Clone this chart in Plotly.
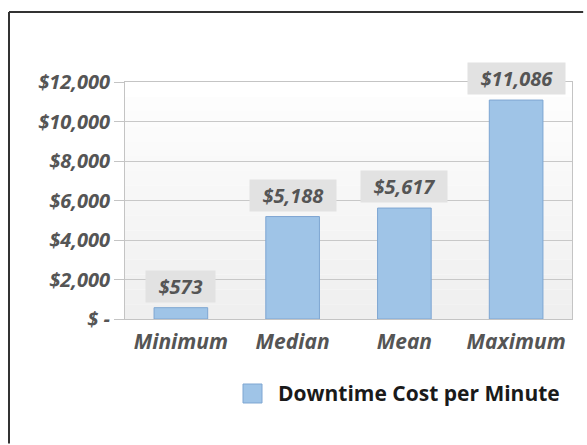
import plotly.graph_objects as go

# Downtime cost per minute summary statistics
categories = ["Minimum", "Median", "Mean", "Maximum"]
costs = [573, 5188, 5617, 11086]
tick_values = [0, 2000, 4000, 6000, 8000, 10000, 12000]
tick_labels = ["$ -", "$2,000", "$4,000", "$6,000", "$8,000", "$10,000", "$12,000"]
series_name = "Downtime Cost per Minute"

FONT = "Open Sans"
LABEL_GRAY = "#555555"
BAR_FILL = "#9fc4e7"
BAR_EDGE = "#7ea6d2"

fig = go.Figure()

fig.add_trace(go.Bar(
    x=categories,
    y=costs,
    name=series_name,
    width=0.48,
    marker=dict(color=BAR_FILL, line=dict(color=BAR_EDGE, width=1)),
    showlegend=False,
    hoverinfo="x+y",
))

# value labels on grey boxes above each bar
for cat, val in zip(categories, costs):
    fig.add_annotation(
        x=cat, y=val,
        text=f"<i><b>&nbsp;&nbsp;${val:,}&nbsp;&nbsp;</b></i>",
        showarrow=False,
        yanchor="bottom",
        yshift=5,
        bgcolor="#e2e2e2",
        borderpad=2,
        font=dict(family=FONT, size=20, color=LABEL_GRAY),
    )

# soft vertical shading of the plotting area
n_bands = 16
for i in range(n_bands):
    shade = int(255 - 16 * i / (n_bands - 1))
    fig.add_shape(
        type="rect", xref="paper", yref="paper",
        x0=0, x1=1,
        y0=1 - (i + 1) / n_bands, y1=1 - i / n_bands,
        fillcolor=f"rgb({shade},{shade},{shade})",
        line=dict(width=0), layer="below",
    )

# series key below the chart: swatch plus label
fig.add_shape(
    type="rect", xref="paper", yref="paper",
    x0=0.264, x1=0.3065, y0=-0.3544, y1=-0.2743,
    fillcolor=BAR_FILL, line=dict(color=BAR_EDGE, width=1),
)
fig.add_annotation(
    x=0.338, y=-0.314, xref="paper", yref="paper",
    xanchor="left", yanchor="middle",
    text=f"<b>{series_name}</b>",
    showarrow=False,
    font=dict(family=FONT, size=21, color="#1a1a1a"),
)

# outer frame: left and top edges of the chart border, kept inside the page
FRAME_LEFT, FRAME_TOP = -0.2595, 1.2954
FRAME_RIGHT, FRAME_BOTTOM = 1.025, -0.525
fig.add_shape(
    type="line", xref="paper", yref="paper",
    x0=FRAME_LEFT, x1=FRAME_LEFT, y0=FRAME_BOTTOM, y1=FRAME_TOP,
    line=dict(color="#333333", width=2), layer="above",
)
fig.add_shape(
    type="line", xref="paper", yref="paper",
    x0=FRAME_LEFT, x1=FRAME_RIGHT, y0=FRAME_TOP, y1=FRAME_TOP,
    line=dict(color="#333333", width=2), layer="above",
)

fig.update_layout(
    width=587, height=445,
    margin=dict(l=125, r=15, t=82, b=126),
    paper_bgcolor="white",
    plot_bgcolor="white",
    font=dict(family=FONT),
    showlegend=False,
    xaxis=dict(
        showgrid=False,
        showline=True, mirror=True, linecolor="#c4c4c4", linewidth=1,
        ticks="",
        ticklabelstandoff=4,
        tickfont=dict(family=FONT, size=21, color=LABEL_GRAY,
                      weight="bold", style="italic"),
        fixedrange=True,
    ),
    yaxis=dict(
        range=[0, 12000],
        tickvals=tick_values,
        ticktext=tick_labels,
        showgrid=True, gridcolor="#c8c8c8", gridwidth=1,
        zeroline=False,
        showline=True, mirror=True, linecolor="#c4c4c4", linewidth=1,
        ticks="outside", ticklen=10, tickcolor="#c4c4c4",
        tickfont=dict(family=FONT, size=20, color=LABEL_GRAY,
                      weight="bold", style="italic"),
        fixedrange=True,
    ),
)

fig.write_html("out.html")
